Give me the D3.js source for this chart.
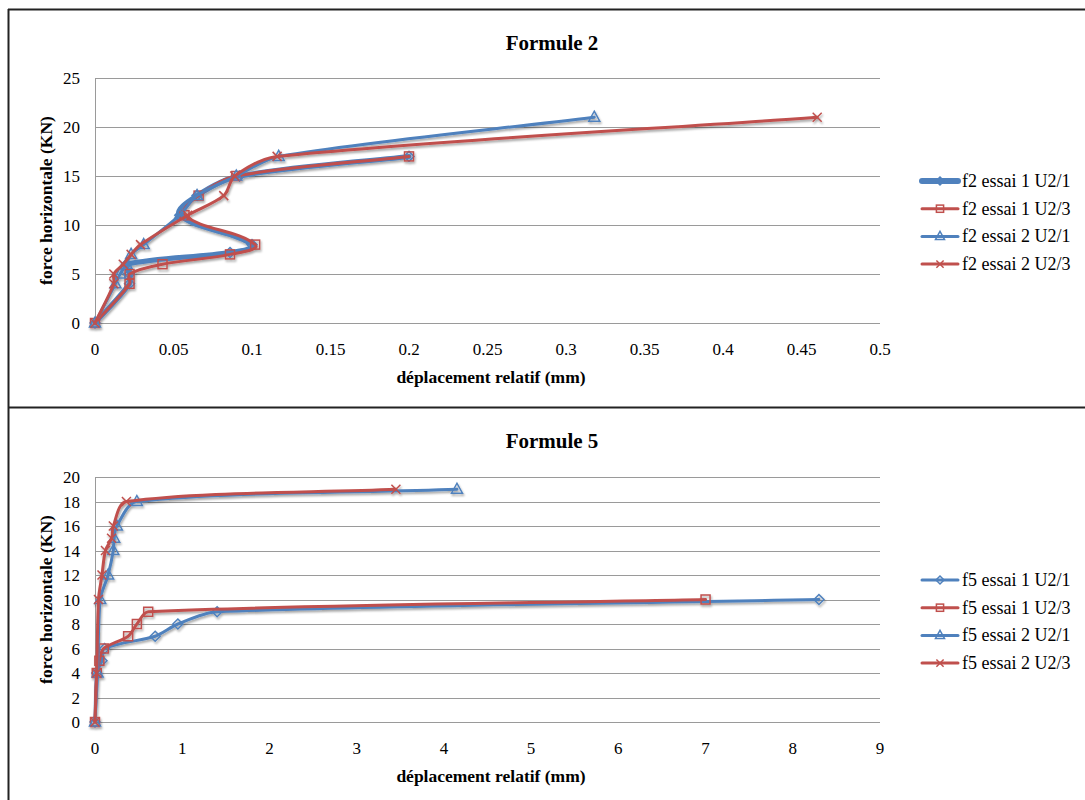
<!DOCTYPE html>
<html><head><meta charset="utf-8">
<script src="https://cdn.jsdelivr.net/npm/d3@7"></script>
<style>
body{margin:0;background:#fff;}
svg{display:block;}
svg text{font-family:"Liberation Serif","Times New Roman","DejaVu Serif",serif;fill:#000;}
</style>
</head><body>
<svg id="c" width="1085" height="800"></svg>
<script>
// ---------- DATA ----------
const f2Names = ["f2 essai 1 U2/1", "f2 essai 1 U2/3", "f2 essai 2 U2/1", "f2 essai 2 U2/3"];
const f2_e1_u21_x = [0, 0.022, 0.022, 0.02, 0.086, 0.1, 0.054, 0.065, 0.092, 0.2];
const f2_e1_u21_y = [0, 4, 5, 6, 7.2, 8, 11, 13, 15, 17];
const f2_e1_u23_x = [0, 0.022, 0.022, 0.043, 0.086, 0.102, 0.057, 0.066, 0.09, 0.2];
const f2_e1_u23_y = [0, 4, 5, 6, 7, 8, 11, 13, 15, 17];
const f2_e2_u21_x = [0, 0.013, 0.016, 0.02, 0.023, 0.031, 0.054, 0.065, 0.09, 0.117, 0.318];
const f2_e2_u21_y = [0, 4, 5, 6, 7, 8, 11, 13, 15, 17, 21];
const f2_e2_u23_x = [0, 0.012, 0.012, 0.018, 0.023, 0.029, 0.059, 0.082, 0.089, 0.116, 0.46];
const f2_e2_u23_y = [0, 4, 5, 6, 7, 8, 11, 13, 15, 17, 21];

const f5Names = ["f5 essai 1 U2/1", "f5 essai 1 U2/3", "f5 essai 2 U2/1", "f5 essai 2 U2/3"];
const f5_e1_u21_x = [0, 0.02, 0.08, 0.11, 0.69, 0.95, 1.4, 8.3];
const f5_e1_u21_y = [0, 4, 5, 6, 7, 8, 9, 10];
const f5_e1_u23_x = [0, 0.02, 0.05, 0.1, 0.38, 0.48, 0.61, 7.0];
const f5_e1_u23_y = [0, 4, 5, 6, 7, 8, 9, 10];
const f5_e2_u21_x = [0, 0.03, 0.06, 0.15, 0.21, 0.22, 0.25, 0.48, 4.15];
const f5_e2_u21_y = [0, 4, 10, 12, 14, 15, 16, 18, 19];
const f5_e2_u23_x = [0, 0.02, 0.04, 0.08, 0.12, 0.19, 0.21, 0.36, 3.45];
const f5_e2_u23_y = [0, 4, 10, 12, 14, 15, 16, 18, 19];

const f2XTicks = [0, 0.05, 0.1, 0.15, 0.2, 0.25, 0.3, 0.35, 0.4, 0.45, 0.5];
const f2YTicks = [0, 5, 10, 15, 20, 25];
const f5XTicks = [0, 1, 2, 3, 4, 5, 6, 7, 8, 9];
const f5YTicks = [0, 2, 4, 6, 8, 10, 12, 14, 16, 18, 20];

const titles = ["Formule 2", "Formule 5"];
const xLabel = "déplacement relatif (mm)";
const yLabel = "force horizontale (KN)";

// ---------- DRAW ----------
const BLUE = "#4F81BD", RED = "#C0504D";
const svg = d3.select("#c");
const defs = svg.append("defs");
const f = defs.append("filter").attr("id", "sh").attr("x", "-20%").attr("y", "-20%").attr("width", "140%").attr("height", "140%");
f.append("feDropShadow").attr("dx", 1).attr("dy", 2).attr("stdDeviation", 1.3).attr("flood-color", "#000").attr("flood-opacity", 0.35);

// frame lines
svg.append("line").attr("x1", 8).attr("x2", 1085).attr("y1", 9.5).attr("y2", 9.5).attr("stroke", "#222").attr("stroke-width", 2);
svg.append("line").attr("x1", 8.5).attr("x2", 8.5).attr("y1", 9).attr("y2", 800).attr("stroke", "#222").attr("stroke-width", 2);
svg.append("line").attr("x1", 8).attr("x2", 1085).attr("y1", 407.5).attr("y2", 407.5).attr("stroke", "#222").attr("stroke-width", 2);

// Excel-like smoothing curve
function ExcelCurve(context) { this._context = context; }
ExcelCurve.prototype = {
  areaStart() {}, areaEnd() {},
  lineStart() { this._pts = []; },
  point(x, y) { this._pts.push([+x, +y]); },
  lineEnd() {
    const p = this._pts, c = this._context, n = p.length, k = 0.3;
    if (!n) return;
    const tan = p.map((q, i) => {
      const a = p[Math.max(0, i - 1)], b = p[Math.min(n - 1, i + 1)];
      const dx = b[0] - a[0], dy = b[1] - a[1];
      const L = Math.hypot(dx, dy);
      return L > 0 ? [dx / L, dy / L] : [0, 0];
    });
    c.moveTo(p[0][0], p[0][1]);
    for (let i = 0; i < n - 1; i++) {
      const a = p[i], b = p[i + 1];
      const L = Math.hypot(b[0] - a[0], b[1] - a[1]);
      c.bezierCurveTo(a[0] + tan[i][0] * L * k, a[1] + tan[i][1] * L * k,
                      b[0] - tan[i + 1][0] * L * k, b[1] - tan[i + 1][1] * L * k,
                      b[0], b[1]);
    }
  }
};
const excelCurve = ctx => new ExcelCurve(ctx);

function zip(xs, ys) { return xs.map((x, i) => ({x: x, y: ys[i]})); }

function marker(g, type, color, cx, cy, s) {
  if (type === "diamond") {
    g.append("path").attr("d", `M${cx},${cy - s}L${cx + s},${cy}L${cx},${cy + s}L${cx - s},${cy}Z`)
      .attr("fill", "none").attr("stroke", color).attr("stroke-width", 1.5);
  } else if (type === "square") {
    const h = s * 0.9;
    g.append("rect").attr("x", cx - h).attr("y", cy - h).attr("width", 2 * h).attr("height", 2 * h)
      .attr("fill", "none").attr("stroke", color).attr("stroke-width", 1.5);
  } else if (type === "triangle") {
    g.append("path").attr("d", `M${cx},${cy - s - 1}L${cx + s + 0.5},${cy + s - 1}L${cx - s - 0.5},${cy + s - 1}Z`)
      .attr("fill", "none").attr("stroke", color).attr("stroke-width", 1.5);
  } else if (type === "x") {
    const h = s * 0.9;
    g.append("path").attr("d", `M${cx - h},${cy - h}L${cx + h},${cy + h}M${cx - h},${cy + h}L${cx + h},${cy - h}`)
      .attr("fill", "none").attr("stroke", color).attr("stroke-width", 1.5);
  }
}

function panel(cfg) {
  const x = d3.scaleLinear().domain(cfg.xDomain).range([95, 880]);
  const y = d3.scaleLinear().domain(cfg.yDomain).range([cfg.bottom, cfg.top]);
  const g = svg.append("g");

  g.selectAll(".gl").data(cfg.yTicks).enter().append("line")
    .attr("x1", 95).attr("x2", 880)
    .attr("y1", d => Math.round(y(d)) + 0.5).attr("y2", d => Math.round(y(d)) + 0.5)
    .attr("stroke", "#9a9a9a").attr("stroke-width", 1);
  g.append("line").attr("x1", 95.5).attr("x2", 95.5).attr("y1", cfg.top).attr("y2", cfg.bottom + 0.5)
    .attr("stroke", "#9a9a9a").attr("stroke-width", 1);

  g.selectAll(".yt").data(cfg.yTicks).enter().append("text")
    .attr("x", 80).attr("y", d => y(d) + 6).attr("text-anchor", "end")
    .attr("font-size", 17).text(d => d);
  g.selectAll(".xt").data(cfg.xTicks).enter().append("text")
    .attr("x", d => x(d)).attr("y", cfg.bottom + 32).attr("text-anchor", "middle")
    .attr("font-size", 17).text(d => String(d));

  g.append("text").attr("x", 552).attr("y", cfg.titleY).attr("text-anchor", "middle")
    .attr("font-size", 21).attr("font-weight", "bold").text(cfg.title);
  g.append("text").attr("x", 491).attr("y", cfg.bottom + 60).attr("text-anchor", "middle")
    .attr("font-size", 17.5).attr("font-weight", "bold").text(xLabel);
  g.append("text").attr("transform", `translate(52,${(cfg.top + cfg.bottom) / 2}) rotate(-90)`)
    .attr("text-anchor", "middle")
    .attr("font-size", 17.5).attr("font-weight", "bold").text(yLabel);

  const line = d3.line().x(d => x(d.x)).y(d => y(d.y)).curve(excelCurve);
  const sg = g.append("g").attr("filter", "url(#sh)");
  cfg.series.forEach(s => {
    const pts = zip(s.xs, s.ys);
    sg.append("path").attr("d", line(pts)).attr("fill", "none").attr("stroke", s.color)
      .attr("stroke-width", s.width).attr("stroke-linejoin", "round").attr("stroke-linecap", "round");
    pts.forEach(p => marker(sg, s.marker, s.color, x(p.x), y(p.y), 5));
  });

  cfg.series.forEach((s, i) => {
    const ly = cfg.legendY + i * 27.7;
    const lg = g.append("g");
    lg.append("line").attr("x1", 922).attr("x2", 958).attr("y1", ly).attr("y2", ly)
      .attr("stroke", s.color).attr("stroke-width", s.legendWidth).attr("stroke-linecap", "round");
    marker(lg, s.marker, s.color, 940, ly, 4);
    lg.append("text").attr("x", 962).attr("y", ly + 6).attr("font-size", 18).text(s.name);
  });
}

panel({
  title: titles[0], titleY: 50, top: 78, bottom: 323,
  xDomain: [0, 0.5], yDomain: [0, 25], xTicks: f2XTicks, yTicks: f2YTicks, legendY: 181,
  series: [
    {name: f2Names[0], xs: f2_e1_u21_x, ys: f2_e1_u21_y, color: BLUE, marker: "diamond", width: 5, legendWidth: 6},
    {name: f2Names[1], xs: f2_e1_u23_x, ys: f2_e1_u23_y, color: RED, marker: "square", width: 3, legendWidth: 3},
    {name: f2Names[2], xs: f2_e2_u21_x, ys: f2_e2_u21_y, color: BLUE, marker: "triangle", width: 3, legendWidth: 3},
    {name: f2Names[3], xs: f2_e2_u23_x, ys: f2_e2_u23_y, color: RED, marker: "x", width: 3, legendWidth: 3}
  ]
});

panel({
  title: titles[1], titleY: 448, top: 477, bottom: 722,
  xDomain: [0, 9], yDomain: [0, 20], xTicks: f5XTicks, yTicks: f5YTicks, legendY: 580,
  series: [
    {name: f5Names[0], xs: f5_e1_u21_x, ys: f5_e1_u21_y, color: BLUE, marker: "diamond", width: 3, legendWidth: 3},
    {name: f5Names[1], xs: f5_e1_u23_x, ys: f5_e1_u23_y, color: RED, marker: "square", width: 3, legendWidth: 3},
    {name: f5Names[2], xs: f5_e2_u21_x, ys: f5_e2_u21_y, color: BLUE, marker: "triangle", width: 3, legendWidth: 3},
    {name: f5Names[3], xs: f5_e2_u23_x, ys: f5_e2_u23_y, color: RED, marker: "x", width: 3, legendWidth: 3}
  ]
});
</script>
</body></html>
